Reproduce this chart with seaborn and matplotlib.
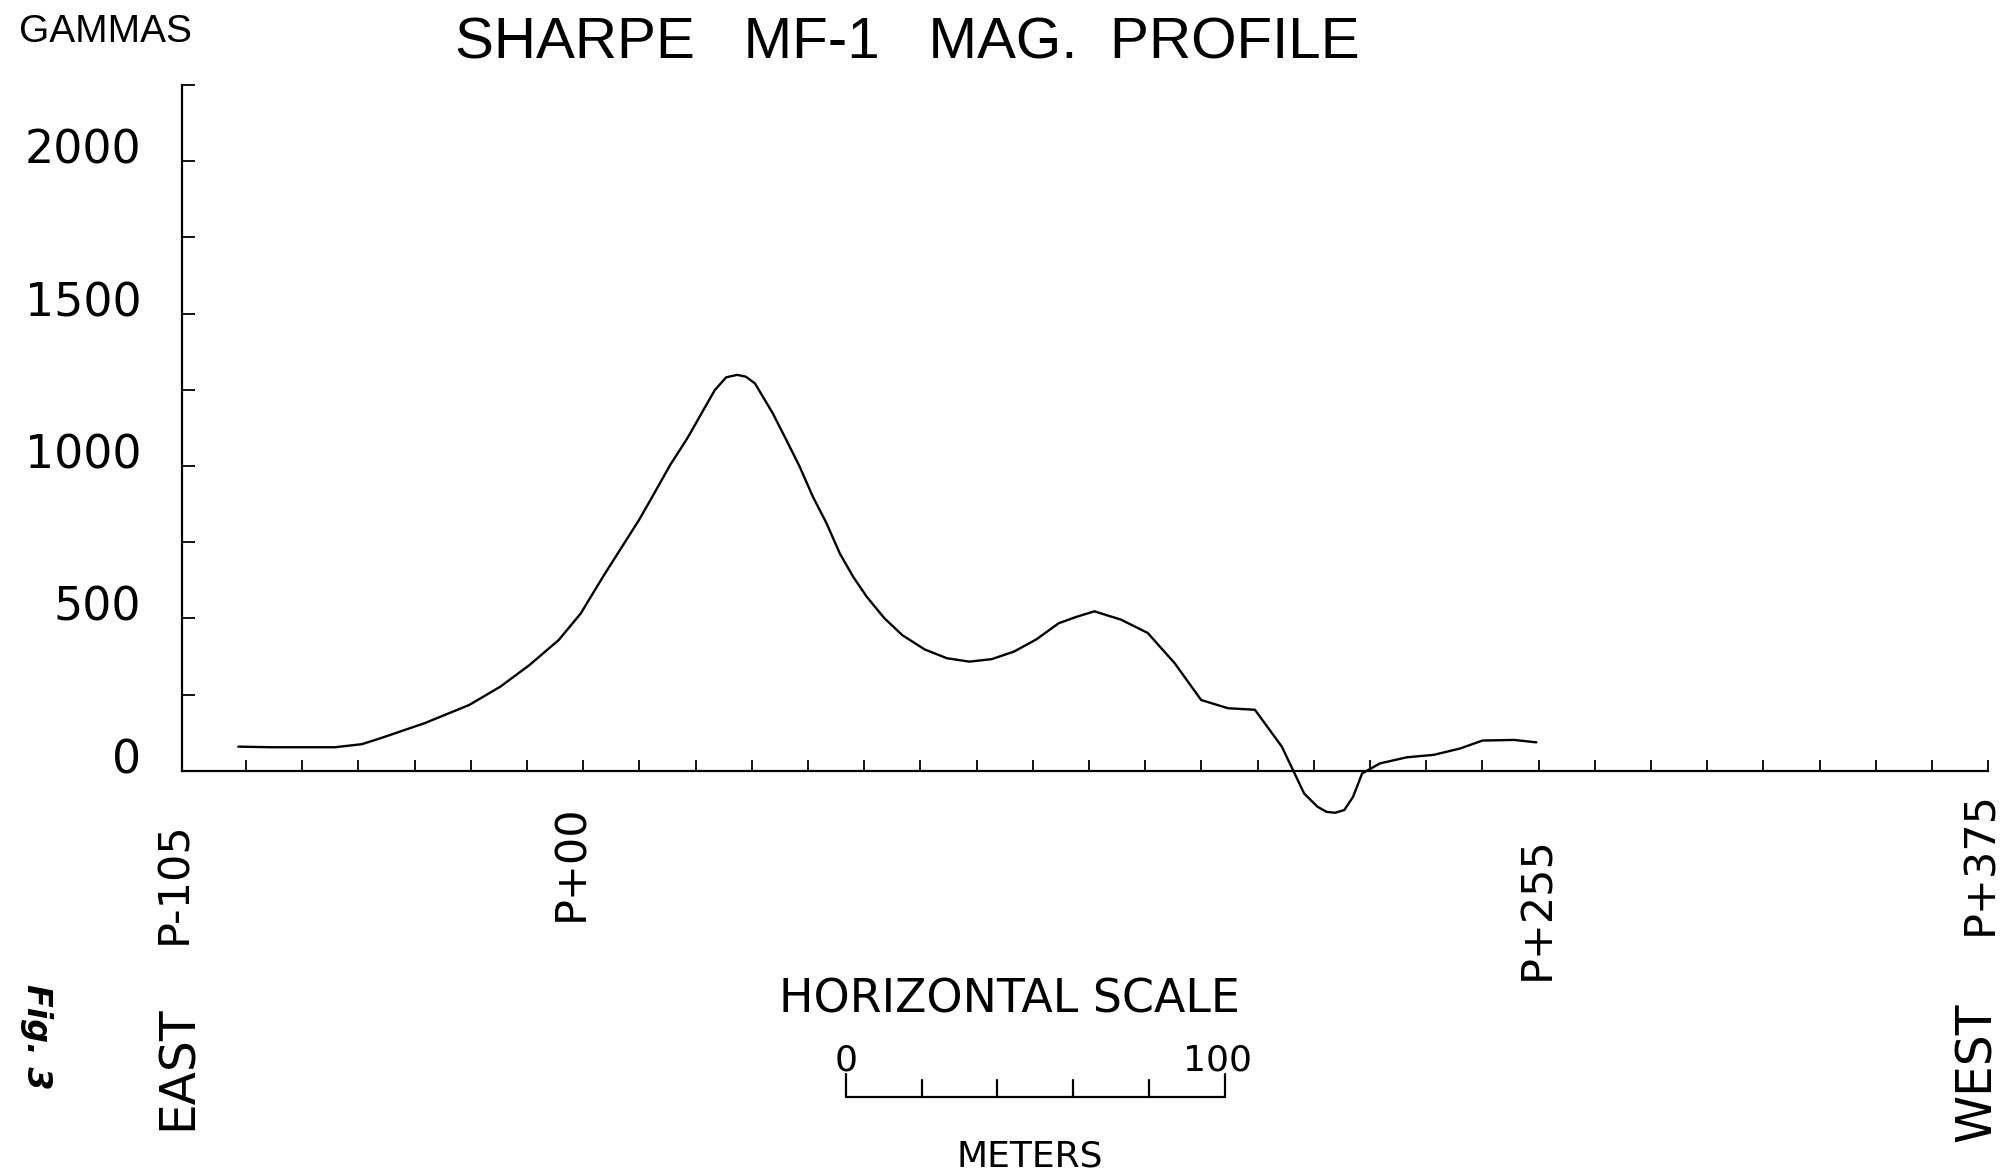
import numpy as np
import pandas as pd
import matplotlib
matplotlib.use("Agg")
import matplotlib.pyplot as plt
import matplotlib.transforms as mtransforms
import seaborn as sns

# ---------------- data ----------------
station_m = [-88, -79, -62.5, -55.4, -50.6, -38.8, -27.0, -18.8, -11.1, -3.4,
             2.4, 8.3, 17.8, 21.3, 26.0, 30.7, 34.3, 37.8, 40.8, 43.7, 46.0,
             48.4, 53.1, 56.7, 60.2, 63.7, 67.3, 70.8, 74.3, 77.9, 82.6, 87.3,
             93.2, 99.1, 105.0, 110.9, 116.8, 122.7, 128.6, 133.3, 138, 145,
             152.1, 159.2, 166.2, 173.3, 180.4, 187.5, 193.4, 196.9, 199.3,
             201.6, 204, 206.3, 208.7, 213.4, 220.5, 227.6, 234.6, 240.5,
             248.8, 254.7]
gamma = [79, 77, 77, 87, 106, 156, 216, 276, 347, 429,
         516, 637, 823, 899, 1003, 1094, 1173, 1249, 1291, 1299, 1293,
         1271, 1173, 1085, 998, 899, 812, 713, 637, 571, 500, 445,
         398, 369, 358, 366, 391, 431, 484, 505, 523, 496,
         452, 353, 232, 205, 200, 79, -75, -118, -135,
         -138, -129, -86, -9, 24, 44, 52, 73, 99,
         101, 93]

station_labels = ["P-105", "P+00", "P+255", "P+375"]
station_label_pos = [-105, 0, 255, 372]
ytick_values = [0, 500, 1000, 1500, 2000]
scale_bar_m = [0, 20, 40, 60, 80, 100]

title = "SHARPE   MF-1   MAG.  PROFILE"
ylabel = "GAMMAS"
scale_title = "HORIZONTAL SCALE"
scale_unit = "METERS"
end_labels = ["EAST", "WEST"]
fig_label = "Fig. 3"

df = pd.DataFrame({"station": station_m, "gamma": gamma})

# ---------------- figure ----------------
sns.set_style("white")
plt.rcParams["font.family"] = ["DejaVu Sans"]

W, H = 2007, 1172
fig = plt.figure(figsize=(W / 100, H / 100), dpi=100)
ax = fig.add_axes([181.5 / W, 0.2644, (1992 - 181.5) / W, 0.6656])

sns.lineplot(data=df, x="station", y="gamma", ax=ax, color="black",
             linewidth=1.7)

ax.set_xlim(-103, 375)
ax.set_ylim(-300, 2260)
ax.set_xlabel("")
ax.set_ylabel("")

for s in ["top", "right"]:
    ax.spines[s].set_visible(False)
ax.spines["bottom"].set_position(("data", 0))
ax.spines["bottom"].set_bounds(-103, 374)
ax.spines["left"].set_bounds(0, 2250)
for s in ["bottom", "left"]:
    ax.spines[s].set_color("black")
    ax.spines[s].set_linewidth(1.6)

# x ticks: short upward ticks along the baseline, no labels
ax.set_xticks(np.linspace(-86, 374, 32))
ax.set_xticklabels([])
ax.tick_params(axis="x", bottom=True, direction="in", length=8, width=1.3,
               color="black")

# y ticks every 250, labels every 500 (placed slightly above their ticks)
yt = np.arange(0, 2251, 250)
ax.set_yticks(yt)
ax.set_yticklabels([str(int(v)) if int(v) in ytick_values else "" for v in yt])
ax.tick_params(axis="y", left=True, direction="in", length=9, width=1.3,
               color="black", pad=29, labelsize=33, labelcolor="black")
offset = mtransforms.ScaledTranslation(0, 0.15, fig.dpi_scale_trans)
for lab in ax.get_yticklabels():
    lab.set_transform(lab.get_transform() + offset)

# station labels (rotated)
station_y = [-368, -302, -450, -302]
for lab, xp, yp in zip(station_labels, station_label_pos, station_y):
    ax.text(xp, yp, lab, rotation=90, ha="center", va="center",
            fontsize=31, color="black", clip_on=False)

# EAST / WEST
ax.text(-104, -975, end_labels[0], rotation=90, ha="center", va="center",
        fontsize=35, color="black", clip_on=False)
ax.text(371, -990, end_labels[1], rotation=90, ha="center", va="center",
        fontsize=35, color="black", clip_on=False)

# horizontal scale bar (in data units: metres)
bar_start = 72.4
bar_y = -1071
bar_x = [bar_start + v for v in scale_bar_m]
ax.plot([bar_x[0], bar_x[-1]], [bar_y, bar_y], color="black", lw=1.6,
        clip_on=False)
for i, bx in enumerate(bar_x):
    h = 75 if i in (0, len(bar_x) - 1) else 55
    ax.plot([bx, bx], [bar_y, bar_y + h], color="black", lw=1.6,
            clip_on=False)
ax.text(bar_x[0], -950, str(scale_bar_m[0]), ha="center", va="center",
        fontsize=26, color="black", clip_on=False)
ax.text(bar_x[-1] - 2, -950, str(scale_bar_m[-1]), ha="center",
        va="center", fontsize=26, color="black", clip_on=False)
ax.text(115.7, -752, scale_title, ha="center", va="center", fontsize=33,
        color="black", clip_on=False)
ax.text(121, -1300, scale_unit, ha="center", va="baseline", fontsize=26,
        color="black", clip_on=False)

# title, y-label, figure number
fig.text(907 / W, 1 - 43.5 / H, title, ha="center", va="center",
         fontsize=42, color="black",
         family=["Liberation Sans", "DejaVu Sans"])
fig.text(19 / W, 1 - 32 / H, ylabel, ha="left", va="center", fontsize=28,
         color="black", family=["Liberation Sans", "DejaVu Sans"])
fig.text(36 / W, 1 - 1037 / H, fig_label, ha="center", va="center",
         rotation=-90, fontsize=24, fontweight="bold", style="italic",
         color="black")

fig.savefig("out.png", dpi=100, facecolor="white")
